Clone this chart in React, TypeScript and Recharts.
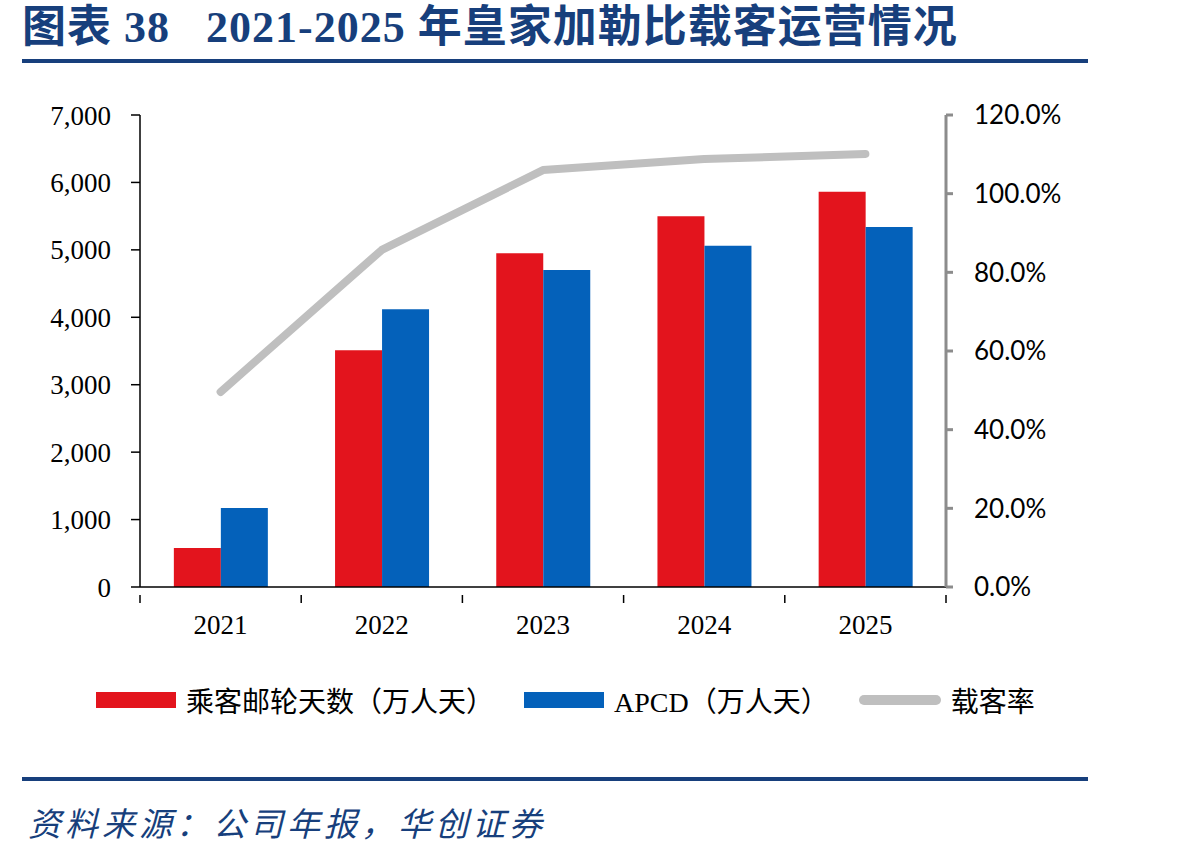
import { Bar, Line, ComposedChart, XAxis, YAxis, Legend } from 'recharts'

const years = ['2021', '2022', '2023', '2024', '2025']
const cruiseDays = [580, 3510, 4950, 5500, 5860]
const apcd = [1170, 4120, 4700, 5060, 5340]
const loadFactor = [0.496, 0.857, 1.06, 1.088, 1.101]

const leftTicks = [0, 1000, 2000, 3000, 4000, 5000, 6000, 7000]
const rightTicks = [0, 0.2, 0.4, 0.6, 0.8, 1.0, 1.2]
const seriesOrder = ['cruiseDays', 'apcd', 'loadFactor']

const data = years.map((year, i) => ({
  year,
  cruiseDays: cruiseDays[i],
  apcd: apcd[i],
  loadFactor: loadFactor[i],
}))

const serif = '"Liberation Serif", "Noto Sans CJK SC", serif'
const navy = '#173F7C'

function YearTick(props: any) {
  const { x, y, payload, index, width, visibleTicksCount } = props
  const half = payload?.offset || width / (2 * visibleTicksCount)
  return (
    <g>
      <line x1={x - half} y1={y} x2={x - half} y2={y + 8} stroke="#000" strokeWidth={1.5} />
      {index === visibleTicksCount - 1 && (
        <line x1={x + half} y1={y} x2={x + half} y2={y + 8} stroke="#000" strokeWidth={1.5} />
      )}
      <text x={x} y={y + 30} textAnchor="middle" dominantBaseline="central" fontSize={27} fontFamily={serif} fill="#000">
        {payload.value}
      </text>
    </g>
  )
}

function LegendContent(props: any) {
  const items = [...(props.payload || [])].sort(
    (a: any, b: any) => seriesOrder.indexOf(a.dataKey) - seriesOrder.indexOf(b.dataKey)
  )
  return (
    <div style={{ height: 146, display: 'flex', alignItems: 'center', paddingLeft: 96, fontFamily: serif, fontSize: 28, color: '#000' }}>
      {items.map((entry: any) => (
        <div key={entry.value} style={{ display: 'flex', alignItems: 'center', marginRight: 30 }}>
          {entry.type === 'line' ? (
            <span style={{ display: 'inline-block', width: 82, height: 10, borderRadius: 5, background: entry.color, marginRight: 10 }} />
          ) : (
            <span style={{ display: 'inline-block', width: 80, height: 16, background: entry.color, marginRight: 10 }} />
          )}
          <span>{entry.value}</span>
        </div>
      ))}
    </div>
  )
}

export default function App() {
  return (
    <div style={{ position: 'absolute', left: 0, top: 0, width: 1198, height: 857, background: '#fff' }}>
      <div style={{ position: 'absolute', left: 22, top: 4, fontSize: 44, lineHeight: '48px', fontWeight: 'bold', color: navy, fontFamily: serif, whiteSpace: 'pre', letterSpacing: 1 }}>
        图表 38   2021-2025 年皇家加勒比载客运营情况
      </div>
      <div style={{ position: 'absolute', left: 22, top: 59, width: 1066, height: 4, background: navy }} />

      <div style={{ position: 'absolute', left: 0, top: 0 }}>
        <ComposedChart
          width={1198}
          height={773}
          data={data}
          margin={{ top: 115, right: 0, left: 0, bottom: 0 }}
          barCategoryGap="21%"
          barGap={0}
        >
          <XAxis
            dataKey="year"
            height={40}
            axisLine={{ stroke: '#000', strokeWidth: 1.5 }}
            tickLine={false}
            tick={<YearTick />}
            interval={0}
          />
          <YAxis
            yAxisId="left"
            width={140}
            domain={[0, 7000]}
            ticks={leftTicks}
            tickFormatter={(v: number) => v.toLocaleString('en-US')}
            axisLine={{ stroke: '#000', strokeWidth: 1.5 }}
            tickLine={{ stroke: '#000', strokeWidth: 1.5 }}
            tickSize={9}
            tickMargin={20}
            tick={{ fontSize: 27, fontFamily: serif, fill: '#000' }}
          />
          <YAxis
            yAxisId="right"
            orientation="right"
            width={252}
            domain={[0, 1.2]}
            ticks={rightTicks}
            tickFormatter={(v: number) => (v * 100).toFixed(1) + '%'}
            axisLine={{ stroke: '#8C8C8C', strokeWidth: 3 }}
            tickLine={{ stroke: '#8C8C8C', strokeWidth: 3 }}
            tickSize={7}
            tickMargin={21}
            tick={{ fontSize: 26, fontFamily: 'Lato, "Liberation Sans", sans-serif', fill: '#000' }}
          />
          <Legend verticalAlign="bottom" content={<LegendContent />} />
          <Bar yAxisId="left" dataKey="cruiseDays" name="乘客邮轮天数（万人天）" fill="#E3141D" legendType="rect" isAnimationActive={false} />
          <Bar yAxisId="left" dataKey="apcd" name="APCD（万人天）" fill="#0461BA" legendType="rect" isAnimationActive={false} />
          <Line
            yAxisId="right"
            dataKey="loadFactor"
            name="载客率"
            type="linear"
            stroke="#BFBFBF"
            strokeWidth={8}
            strokeLinecap="round"
            strokeLinejoin="round"
            dot={false}
            activeDot={false}
            legendType="line"
            isAnimationActive={false}
          />
        </ComposedChart>
      </div>

      <div style={{ position: 'absolute', left: 22, top: 777, width: 1066, height: 4, background: navy }} />
      <div style={{ position: 'absolute', left: 28, top: 804, fontSize: 33, lineHeight: '42px', fontStyle: 'italic', color: navy, fontFamily: serif, letterSpacing: 4, whiteSpace: 'pre' }}>
        资料来源：公司年报，华创证券
      </div>
    </div>
  )
}
